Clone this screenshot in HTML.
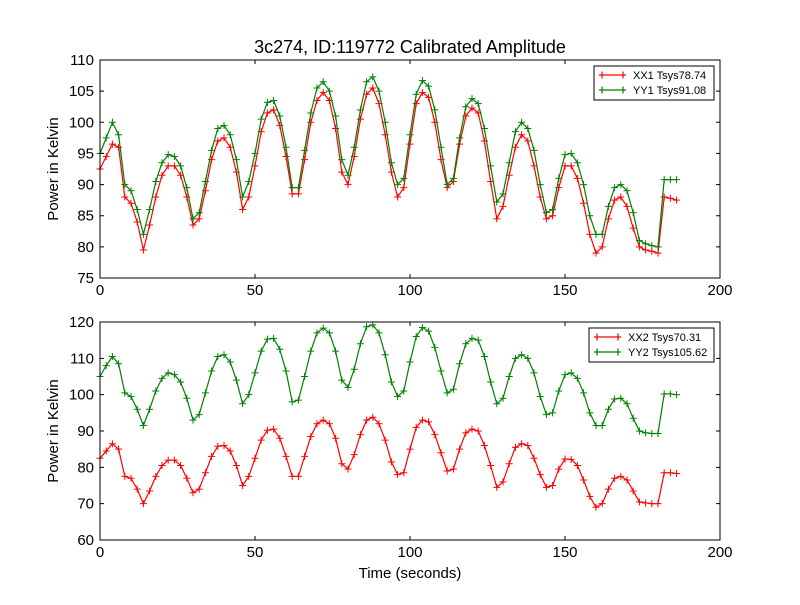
<!DOCTYPE html>
<html><head><meta charset="utf-8"><style>
body{margin:0;background:#fff}
svg{font-family:"Liberation Sans","DejaVu Sans",sans-serif}
</style></head><body>
<svg id="c" width="800" height="600" xmlns="http://www.w3.org/2000/svg"></svg>
<script>
const times=[];for(let t=0;t<=186;t+=2)times.push(t);
const xx1=[92.5,94.5,96.5,96,88,87,84,79.5,83.5,88,91.5,93,93,91.5,88,83.5,84.5,89,94,97,97.5,96,92,86,88,93,98.5,101.5,102,99.5,94.5,88.5,88.5,94,100,103.5,104.8,103.5,99,92,90,94.5,100.5,104.5,105.5,103,98,92,88,89.5,96.5,103,104.8,104,100,94,89.5,90.5,96.5,101,102.3,101.5,97,90.5,84.5,86.5,91.5,96,98,97,93,88,84.5,85,89.5,93,93,91,87,82,79,80,84.5,87.5,88,86.5,83,80,79.5,79.3,79,88,87.8,87.5];
const yy1=[95,97.5,100,98,90,89,86,82,86,90.5,93.5,94.8,94.5,93,89.5,84.5,85.5,90.5,95.5,99,99.5,98,94,88,90.5,95,100.5,103.2,103.5,101,96,89.5,89.5,95.5,101.5,105.5,106.5,105,101,94,91.5,96,102,106.5,107.3,105,100,93.5,90,91,98,104.5,106.7,105.8,102,96,90,91,97.5,102.5,103.8,103,99,93,87.2,88.5,93.5,98.5,100,99,95.5,90,85.5,86,91,94.8,95,93.5,90,85,82,82,86.5,89.5,90,89,85.5,81,80.5,80.2,80,90.8,90.8,90.8];
const xx2=[82.5,84.5,86.5,85,77.5,77,74,70,73.5,77.5,80.5,82,82,80.5,77,73,74,78.5,83,85.8,86,84.5,80.5,75,77.5,82.5,87.5,90.2,90.5,88,83,77.5,77.5,83,88.5,92,93,92,88,81,79.5,83.5,89,93,93.8,92,87.5,81.5,78,78.5,85,91,93,92.5,89,84,79,79.5,85,89.5,90.5,90,86,80.5,74.5,76,81,85.5,86.5,86,82.5,78,74.5,75,79.5,82.3,82.2,80.5,76.5,72,69,70,74,77,77.5,76.5,73.5,70.5,70.2,70,70,78.5,78.5,78.3];
const yy2=[105,108,110.5,108.5,100.5,99.5,96,91.5,96,101,104.5,106,105.5,103.5,99,93,94.5,100.5,106.5,110.5,111,109,104,97.5,100,106,112,115.3,115.5,112.5,106.5,98,98.5,105,112,117,118.3,117,112,104,102,107,114,118.7,119.2,117,111,103.5,99.5,101,109,116,118.5,117.5,113,106.5,100.5,101.5,108.5,114,115.5,115,110.5,103.5,97.5,99,105,110,111,110,106,99.5,94.5,95,101,105.5,106,104.5,100.5,95,91.5,91.5,96,98.8,99,97.5,93.5,90,89.5,89.3,89.3,100.2,100.2,100];
const xTicks=[0,50,100,150,200];
const yTicksTop=[75,80,85,90,95,100,105,110];
const yTicksBot=[60,70,80,90,100,110,120];
const NS="http://www.w3.org/2000/svg";
const svg=document.getElementById('c');
function mk(tag,attrs,parent){const e=document.createElementNS(NS,tag);for(const k in attrs)e.setAttribute(k,attrs[k]);(parent||svg).appendChild(e);return e;}
function panel(name,top,bottom,ymin,ymax,yTicks,series,legendBox){
  const L=100,R=720;
  const xs=v=>L+(v-0)/200*(R-L);
  const ys=v=>bottom-(v-ymin)/(ymax-ymin)*(bottom-top);
  const g=mk('g',{});
  
  
  series.forEach(s=>{
    const sg=mk('g',{},g);
    
    
    const pts=times.map((t,i)=>xs(t).toFixed(1)+','+ys(s.vals[i]).toFixed(1)).join(' ');
    const pl=mk('polyline',{points:pts,fill:'none',stroke:s.color,'stroke-width':1.2},sg);
    
    
    let d='';
    times.forEach((t,i)=>{const x=xs(t),y=ys(s.vals[i]);d+=`M${x-3.5},${y}h7M${x},${y-3.5}v7`;});
    const mkp=mk('path',{d:d,stroke:s.color,'stroke-width':1,fill:'none'},sg);
    
    
  });
  const fr=mk('rect',{x:L,y:top,width:R-L,height:bottom-top,fill:'none',stroke:'#000','stroke-width':1},g);
  
  
  xTicks.forEach(v=>{
    const x=xs(v);
    mk('path',{d:`M${x},${bottom}v-4M${x},${top}v4`,stroke:'#000'},g);
    const tx=mk('text',{x:x,y:bottom+17,'font-size':15,'text-anchor':'middle'},g);
    tx.textContent=v;
    
    
  });
  yTicks.forEach(v=>{
    const y=ys(v);
    mk('path',{d:`M${L},${y}h4M${R},${y}h-4`,stroke:'#000'},g);
    const tx=mk('text',{x:L-6,y:y+5,'font-size':15,'text-anchor':'end'},g);
    tx.textContent=v;
    
    
  });
  const yl=mk('text',{x:0,y:0,'font-size':15,'text-anchor':'middle',transform:`translate(58,${(top+bottom)/2}) rotate(-90)`},g);
  yl.textContent='Power in Kelvin';
  
  
  const lg=mk('g',{},g);
  
  
  mk('rect',{x:legendBox[0],y:legendBox[1],width:legendBox[2],height:34,fill:'#fff',stroke:'#000'},lg);
  series.forEach((s,i)=>{
    const y=legendBox[1]+9+i*15;const x0=legendBox[0]+5;
    mk('path',{d:`M${x0},${y}h27M${x0+3},${y-3.5}v7M${x0+24},${y-3.5}v7`,stroke:s.color,'stroke-width':1.2},lg);
    const t=mk('text',{x:x0+34,y:y+4,'font-size':11},lg);
    t.textContent=s.label;
    
    
  });
  return {xs,ys};
}
const title=mk('text',{x:410,y:53,'font-size':18,'text-anchor':'middle'});
title.textContent='3c274, ID:119772 Calibrated Amplitude';


panel('top-panel',60,278,75,110,yTicksTop,[
 {name:'xx1-series',label:'XX1 Tsys78.74',color:'#ff0000',vals:xx1},
 {name:'yy1-series',label:'YY1 Tsys91.08',color:'#008000',vals:yy1}],[594,66,120]);
panel('bottom-panel',322,540,60,120,yTicksBot,[
 {name:'xx2-series',label:'XX2 Tsys70.31',color:'#ff0000',vals:xx2},
 {name:'yy2-series',label:'YY2 Tsys105.62',color:'#008000',vals:yy2}],[589,328,125]);
const xl=mk('text',{x:410,y:578,'font-size':15,'text-anchor':'middle'});
xl.textContent='Time (seconds)';


</script>
</body></html>
